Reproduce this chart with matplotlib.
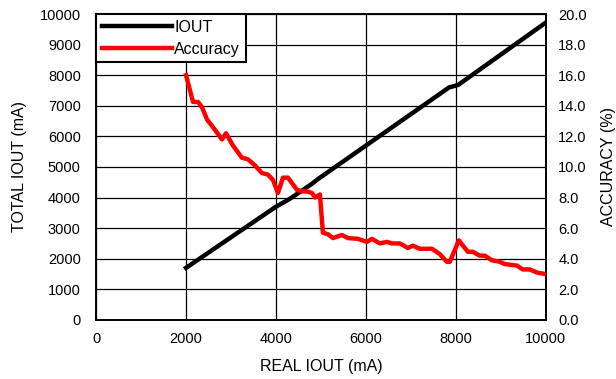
import matplotlib
matplotlib.use("Agg")
import matplotlib.pyplot as plt

plt.rcParams['font.family'] = ['Liberation Sans', 'DejaVu Sans']

# IOUT total vs real
iout_x = [2000, 4000, 4300, 4800, 4950, 7850, 8050, 10000]
iout_y = [1700, 3700, 3950, 4450, 4620, 7600, 7680, 9720]

# accuracy (%)
acc_x = [2000, 2156, 2267, 2356, 2467, 2600, 2800, 2889, 3044, 3244, 3378, 3533, 3689,
         3822, 3933, 4044, 4156, 4267, 4467, 4600, 4689, 4800, 4867, 4978, 5044, 5156,
         5267, 5467, 5600, 5822, 6022, 6133, 6311, 6467, 6578, 6756, 6933, 7044, 7200,
         7467, 7644, 7800, 7867, 8067, 8267, 8378, 8533, 8644, 8800, 8978, 9089, 9356,
         9489, 9644, 9800, 9978]
acc_y = [16.0, 14.25, 14.25, 13.9, 13.1, 12.6, 11.8, 12.2, 11.4, 10.6, 10.5, 10.1, 9.6,
         9.5, 9.15, 8.3, 9.3, 9.3, 8.5, 8.4, 8.4, 8.3, 8.0, 8.2, 5.7, 5.6,
         5.35, 5.55, 5.35, 5.3, 5.1, 5.3, 5.0, 5.1, 5.0, 5.0, 4.7, 4.85, 4.65,
         4.65, 4.3, 3.8, 3.8, 5.2, 4.45, 4.45, 4.2, 4.2, 3.9, 3.8, 3.65, 3.55,
         3.3, 3.3, 3.1, 3.0]

fig = plt.figure(figsize=(6.16, 3.79), dpi=100)
ax = fig.add_axes([0.156, 0.156, 0.73, 0.807])
ax2 = ax.twinx()

l1, = ax.plot(iout_x, iout_y, color='black', lw=3.2, label='IOUT', zorder=3)
l2, = ax2.plot(acc_x, acc_y, color='red', lw=3.2, label='Accuracy', zorder=3)

ax.set_xlim(0, 10000)
ax.set_ylim(0, 10000)
ax2.set_ylim(0, 20)
ax.set_xticks(range(0, 10001, 2000))
ax.set_yticks(range(0, 10001, 1000))
ax2.set_yticks([i * 2.0 for i in range(11)])
ax2.set_yticklabels(['%.1f' % (i * 2.0) for i in range(11)])

ax.grid(True, color='black', lw=0.9)
ax.tick_params(axis='y', length=0, labelsize=10.5, pad=11)
ax.tick_params(axis='x', length=0, labelsize=10.5, pad=9)
ax2.tick_params(length=0, labelsize=10.5, pad=9)
for a in (ax, ax2):
    for s in a.spines.values():
        s.set_linewidth(1.2)

ax.set_xlabel('REAL IOUT (mA)', fontsize=11.5, labelpad=9)
ax.set_ylabel('TOTAL IOUT (mA)', fontsize=11.5, labelpad=9)
ax2.set_ylabel('ACCURACY (%)', fontsize=11.5, labelpad=10)

leg = ax2.legend([l1, l2], ['IOUT', 'Accuracy'], loc='upper left', fontsize=11.5,
                 fancybox=False, framealpha=1, edgecolor='black',
                 borderaxespad=0, handlelength=4.4, handletextpad=0.15,
                 borderpad=0.35, labelspacing=0.45)
leg.get_frame().set_linewidth(1.5)

fig.savefig('out.png', dpi=100)
